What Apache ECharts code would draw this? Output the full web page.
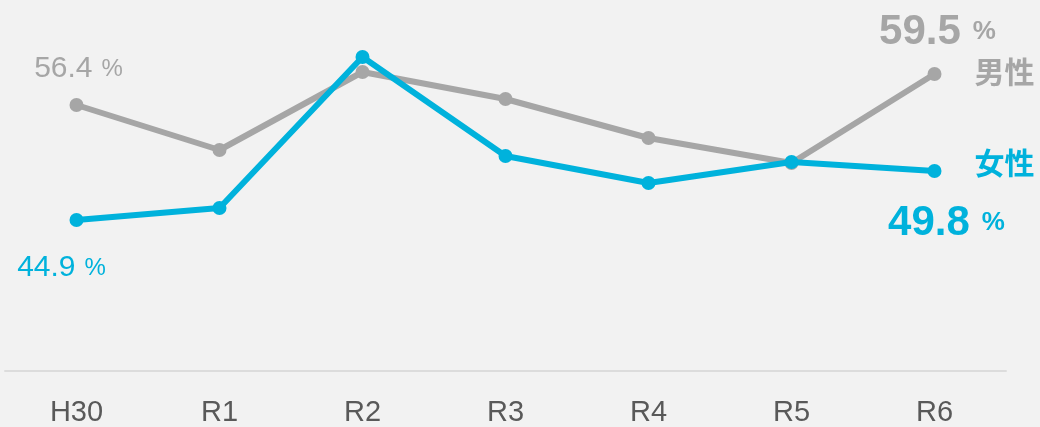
<!DOCTYPE html>
<html>
<head>
<meta charset="utf-8">
<script src="https://cdn.jsdelivr.net/npm/echarts@6/dist/echarts.min.js"></script>
<style>
  html, body { margin: 0; padding: 0; background: #f2f2f2; }
  #chart { width: 1040px; height: 427px; }
</style>
</head>
<body>
<div id="chart"></div>
<script>
var years = ['H30', 'R1', 'R2', 'R3', 'R4', 'R5', 'R6'];
var male = [56.4, 51.9, 59.7, 57.0, 53.1, 50.6, 59.5];
var female = [44.9, 46.1, 61.2, 51.3, 48.6, 50.7, 49.8];

var gray = '#a6a6a6';
var cyan = '#00b2dc';
var font = '"Liberation Sans", sans-serif';
var jpFont = '"Noto Sans CJK JP", sans-serif';

function firstLabel(color, pos, offset) {
    return {
        show: true,
        position: pos,
        distance: 16,
        offset: offset,
        formatter: function (p) { return '{v|' + p.value.toFixed(1) + '}{u|%}'; },
        rich: {
            v: { fontSize: 30, color: color, fontFamily: font },
            u: { fontSize: 24, color: color, fontFamily: font, padding: [0, 0, 0, 9] }
        }
    };
}

function lastLabel(color, pos, offset) {
    return {
        show: true,
        position: pos,
        distance: 14,
        offset: offset,
        formatter: function (p) { return '{v|' + p.value.toFixed(1) + '}{u|%}'; },
        rich: {
            v: { fontSize: 42, fontWeight: 'bold', color: color, fontFamily: font },
            u: { fontSize: 26, fontWeight: 'bold', color: color, fontFamily: font, padding: [0, 0, 0, 12] }
        }
    };
}

function buildData(values, color, firstPos, firstOff, lastPos, lastOff) {
    return values.map(function (v, i) {
        var item = { value: v };
        if (i === 0) item.label = firstLabel(color, firstPos, firstOff);
        if (i === values.length - 1) item.label = lastLabel(color, lastPos, lastOff);
        return item;
    });
}

var myChart = echarts.init(document.getElementById('chart'));
var option = {
    backgroundColor: '#f2f2f2',
    animation: false,
    grid: { left: 5, right: 34, top: 21, bottom: 56 },
    xAxis: {
        type: 'category',
        data: years,
        boundaryGap: true,
        axisLine: { lineStyle: { color: '#dcdcdc', width: 2 } },
        axisTick: { show: false },
        axisLabel: { color: '#595959', fontSize: 29, fontFamily: font, margin: 27 }
    },
    yAxis: {
        type: 'value',
        min: 29.8,
        max: 64.8,
        show: false,
        splitLine: { show: false }
    },
    series: [
        {
            name: '男性',
            type: 'line',
            data: buildData(male, gray, 'top', [2, 2], 'top', [3, 0]),
            color: gray,
            lineStyle: { width: 6, color: gray },
            symbol: 'circle',
            symbolSize: 14,
            itemStyle: { color: gray },
            endLabel: {
                show: true,
                formatter: '男性',
                color: gray,
                fontSize: 30,
                fontWeight: 'bold',
                fontFamily: jpFont,
                distance: 40,
                offset: [0, -2]
            },
            z: 2
        },
        {
            name: '女性',
            type: 'line',
            data: buildData(female, cyan, 'bottom', [-15, 10], 'bottom', [12, 10]),
            color: cyan,
            lineStyle: { width: 6, color: cyan },
            symbol: 'circle',
            symbolSize: 14,
            itemStyle: { color: cyan },
            endLabel: {
                show: true,
                formatter: '女性',
                color: cyan,
                fontSize: 30,
                fontWeight: 'bold',
                fontFamily: jpFont,
                distance: 40,
                offset: [0, -8]
            },
            z: 3
        }
    ]
};
option && myChart.setOption(option);
</script>
</body>
</html>
